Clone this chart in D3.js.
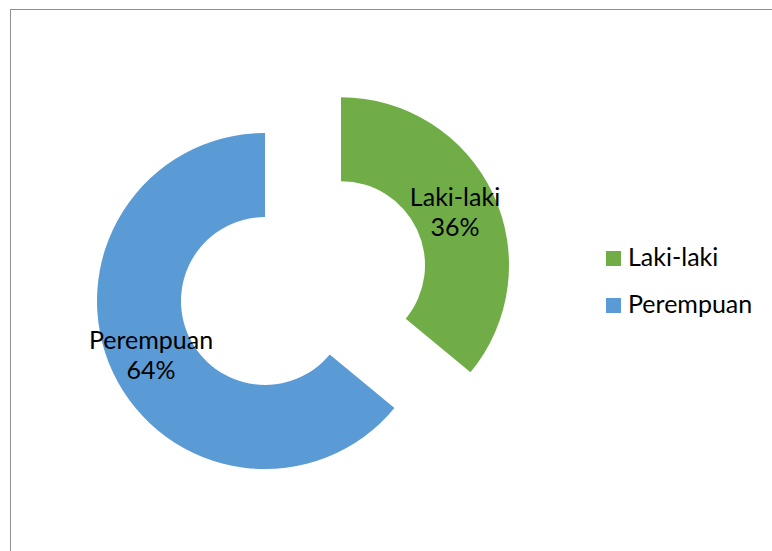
<!DOCTYPE html>
<meta charset="utf-8">
<style>
    body { margin: 0; background: #fff; }
    text { font-family: Lato, "Open Sans", sans-serif; fill: #000; }
</style>
<body>
<script src="https://d3js.org/d3.v7.min.js"></script>
<script>

    var categories = ["Laki-laki", "Perempuan"];
    var values = [36, 64];
    var colors = ["#70AD47", "#5B9BD5"];
    var explode = [84, 0];

    var width = 772, height = 551;
    var cx = 265, cy = 301;
    var outerR = 168, innerR = 84;

    var svg = d3.select("body").append("svg")
        .attr("width", width)
        .attr("height", height);

    // chart frame (runs off the right and bottom)
    svg.append("rect")
        .attr("x", 10.5).attr("y", 9.5)
        .attr("width", 770).attr("height", 560)
        .attr("fill", "none")
        .attr("stroke", "#8f8f8f")
        .attr("stroke-width", 1);

    var data = categories.map(function(c, i) {
        return {name: c, value: values[i], color: colors[i], explode: explode[i]};
    });

    var pie = d3.pie().sort(null).value(function(d) { return d.value; });
    var arc = d3.arc().innerRadius(innerR).outerRadius(outerR);
    var labelArc = d3.arc().innerRadius((innerR + outerR) / 2).outerRadius((innerR + outerR) / 2);

    var total = d3.sum(values);
    var arcs = pie(data);

    var g = svg.append("g")
        .attr("transform", "translate(" + cx + "," + cy + ")");

    var slice = g.selectAll("g.slice")
        .data(arcs)
      .enter().append("g")
        .attr("class", "slice")
        .attr("transform", function(d) {
            var a = (d.startAngle + d.endAngle) / 2;
            var off = d.data.explode;
            return "translate(" + (Math.sin(a) * off) + "," + (-Math.cos(a) * off) + ")";
        });

    slice.append("path")
        .attr("d", arc)
        .attr("fill", function(d) { return d.data.color; });

    var label = slice.append("text")
        .attr("text-anchor", "middle")
        .style("font-size", "25px")
        .attr("transform", function(d) {
            var c = labelArc.centroid(d);
            return "translate(" + c[0] + "," + c[1] + ")";
        });

    label.append("tspan")
        .attr("x", 0).attr("y", -6)
        .text(function(d) { return d.data.name; });

    label.append("tspan")
        .attr("x", 0).attr("y", 24)
        .text(function(d) { return Math.round(d.data.value / total * 100) + "%"; });

    // legend
    var legend = svg.append("g")
        .attr("transform", "translate(606,251)");

    var item = legend.selectAll("g")
        .data(data)
      .enter().append("g")
        .attr("transform", function(d, i) { return "translate(0," + (i * 47) + ")"; });

    item.append("rect")
        .attr("width", 15).attr("height", 15)
        .attr("fill", function(d) { return d.color; });

    item.append("text")
        .attr("x", 22).attr("y", 15)
        .style("font-size", "25px")
        .text(function(d) { return d.name; });

</script>
